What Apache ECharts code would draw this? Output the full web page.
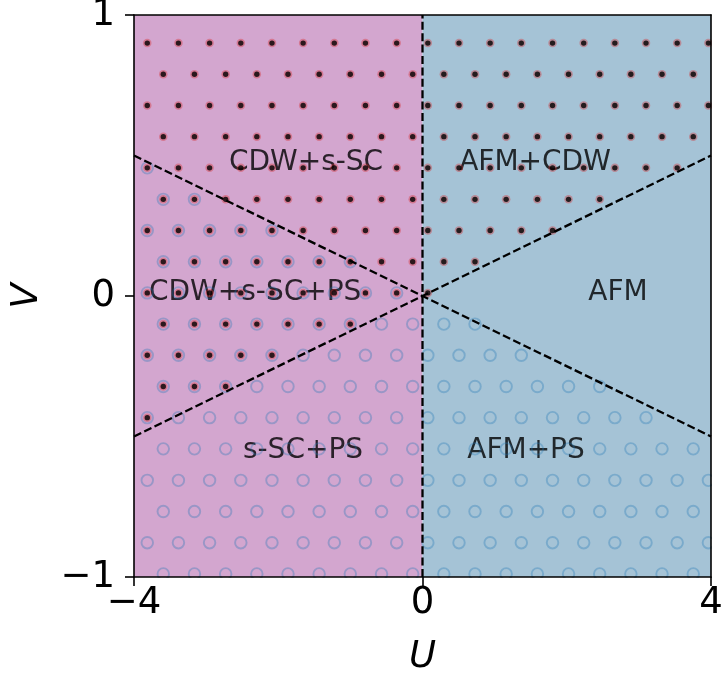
<!DOCTYPE html>
<html><head><meta charset="utf-8">
<script src="https://cdn.jsdelivr.net/npm/echarts@6/dist/echarts.min.js"></script>
<style>html,body{margin:0;padding:0;background:#fff}#c{width:723px;height:677px}</style>
</head><body><div id="c"></div>
<script>
// lattice rows (V values) and column positions (U values) for the two staggered row types
const rowV = [0.900, 0.789, 0.678, 0.567, 0.456, 0.344, 0.233, 0.122, 0.011, -0.100, -0.211, -0.322, -0.433, -0.544, -0.656, -0.767, -0.878, -0.989];
const rowType = ['A','B','A','B','A','B','A','B','A','B','A','B','A','B','A','B','A','B'];
const colUA = [-3.816,-3.384,-2.952,-2.519,-2.087,-1.655,-1.223,-0.791,-0.358,0.074,0.506,0.938,1.370,1.803,2.235,2.667,3.099,3.531,3.964];
const colUB = [-4.026,-3.594,-3.162,-2.729,-2.297,-1.865,-1.433,-1.001,-0.568,-0.136,0.296,0.728,1.160,1.593,2.025,2.457,2.889,3.321,3.754];
// per row: number of points from the left that carry CDW (dot) and PS (open circle)
const cdwCount = [19,19,19,19,18,16,14,12,10,8,5,4,1,0,0,0,0,0];
const psCount  = [0,0,0,0,1,3,5,8,9,12,13,16,17,19,19,19,19,19];
// phase boundaries
const boundary1 = [[-4,0.5],[4,-0.5]];
const boundary2 = [[-4,-0.5],[4,0.5]];
const boundary3 = [[0,-1],[0,1]];
// region labels
const labelNames = ['CDW+s-SC','AFM+CDW','CDW+s-SC+PS','AFM','s-SC+PS','AFM+PS'];
const labelU = [-1.615, 1.56, -2.32, 2.71, -1.657, 1.435];
const labelV = [0.473, 0.473, 0.011, 0.011, -0.552, -0.552];
const xTicks = [-4, 0, 4];
const yTicks = [-1, 0, 1];

const cdwPts = [], psPts = [];
rowV.forEach((v, r) => {
  const cols = rowType[r] === 'A' ? colUA : colUB;
  for (let j = 0; j < cdwCount[r]; j++) cdwPts.push([cols[j], v]);
  for (let j = 0; j < psCount[r]; j++) psPts.push([cols[j], v]);
});
const labelData = labelNames.map((n, i) => ({ value: [labelU[i], labelV[i]], name: n }));

const FONT = 'DejaVu Sans';
const fmt = v => String(v).replace('-', '\u2212');
const L = 134, T = 15, W = 577, H = 562;
const chart = echarts.init(document.getElementById('c'), null, { renderer: 'canvas' });
const axisCommon = {
  type: 'value', z: 60,
  axisLine: { show: true, onZero: false, lineStyle: { color: '#000', width: 1.6 } },
  splitLine: { show: false }
};
chart.setOption({
  animation: false,
  grid: { left: L, top: T, width: W, height: H, containLabel: false, outerBoundsMode: 'none' },
  xAxis: [
    Object.assign({}, axisCommon, {
      position: 'bottom', min: xTicks[0], max: xTicks[2], interval: 4,
      axisTick: { show: true, inside: false, length: 9, lineStyle: { color: '#000', width: 1.6 } },
      axisLabel: { formatter: fmt, fontSize: 37, color: '#000', fontFamily: FONT, margin: 8 },
      name: 'U', nameLocation: 'middle', nameGap: 62,
      nameTextStyle: { fontSize: 37, fontStyle: 'italic', color: '#000', fontFamily: FONT }
    }),
    Object.assign({}, axisCommon, {
      position: 'top', min: -4, max: 4, axisTick: { show: false }, axisLabel: { show: false }
    })
  ],
  yAxis: [
    Object.assign({}, axisCommon, {
      position: 'left', min: yTicks[0], max: yTicks[2], interval: 1,
      axisTick: { show: true, inside: false, length: 9, lineStyle: { color: '#000', width: 1.6 } },
      axisLabel: { formatter: fmt, fontSize: 37, color: '#000', fontFamily: FONT, margin: 19 },
      name: 'V', nameLocation: 'middle', nameGap: 88,
      nameTextStyle: { fontSize: 37, fontStyle: 'italic', color: '#000', fontFamily: FONT }
    }),
    Object.assign({}, axisCommon, {
      position: 'right', min: -1, max: 1, axisTick: { show: false }, axisLabel: { show: false }
    })
  ],
  graphic: [
    { type: 'rect', z: 50, shape: { x: 0, y: 0, width: L - 1, height: 677 }, style: { fill: '#fff' } },
    { type: 'rect', z: 50, shape: { x: L + W + 1, y: 0, width: 723, height: 677 }, style: { fill: '#fff' } },
    { type: 'rect', z: 50, shape: { x: 0, y: 0, width: 723, height: T - 1 }, style: { fill: '#fff' } },
    { type: 'rect', z: 50, shape: { x: 0, y: T + H + 1, width: 723, height: 200 }, style: { fill: '#fff' } }
  ],
  series: [
    {
      type: 'line', data: [], z: 1,
      markArea: {
        silent: true,
        data: [
          [{ coord: [-4, -1], itemStyle: { color: '#d3a6cf' } }, { coord: [0, 1] }],
          [{ coord: [0, -1], itemStyle: { color: '#a5c3d6' } }, { coord: [4, 1] }]
        ]
      }
    },
    {
      type: 'scatter', data: labelData, z: 2, symbolSize: 1, silent: true,
      itemStyle: { color: 'rgba(0,0,0,0)' },
      label: { show: true, position: 'inside', formatter: p => p.name, fontSize: 28, color: '#000',
               fontFamily: FONT, textBorderWidth: 0 }
    },
    {
      type: 'scatter', data: psPts, z: 3, symbolSize: 11.5, silent: true,
      itemStyle: { color: 'rgba(0,0,0,0)', borderColor: 'rgba(31,119,180,0.4)', borderWidth: 1.9 }
    },
    {
      type: 'scatter', data: cdwPts, z: 4, symbolSize: 8.5, silent: true,
      itemStyle: { color: 'rgba(214,39,40,0.45)' }
    },
    {
      type: 'scatter', data: cdwPts, z: 4, symbolSize: 5.4, silent: true,
      itemStyle: { color: '#000' }
    },
    ...[boundary1, boundary2, boundary3].map(b => ({
      type: 'line', data: b, z: 5, symbol: 'none', silent: true,
      lineStyle: { color: '#000', width: 2.3, type: [8, 3.4] }
    }))
  ]
});
</script>
</body></html>
